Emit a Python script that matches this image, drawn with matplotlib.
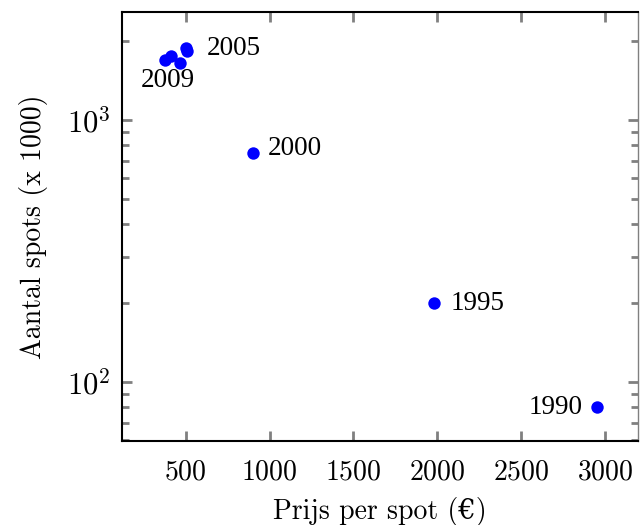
import matplotlib
matplotlib.use("Agg")
import matplotlib.pyplot as plt
from matplotlib.ticker import LogLocator, FixedLocator, FuncFormatter
import numpy as np

plt.rcParams['mathtext.fontset'] = 'cm'
plt.rcParams['axes.formatter.use_mathtext'] = True

jaren = ['1990', '1995', '2000', '2005', '2006', '2007', '2008', '2009']
prijs = [2950, 1980, 900, 502, 508, 466, 411, 377]
spots = [80, 200, 750, 1878, 1826, 1646, 1759, 1694]

# labels die getoond worden en hun verschuiving (punten)
labels = {'1990': (-10, 0, 'right', 'center'),
          '1995': (12, 0, 'left', 'center'),
          '2000': (11, 3, 'left', 'center'),
          '2005': (15, 0, 'left', 'center'),
          '2009': (2, -15, 'center', 'center')}

xticks = [500, 1000, 1500, 2000, 2500, 3000]

fig = plt.figure(figsize=(6.4, 5.25), dpi=100)
ax = fig.add_axes([122/640, 84/525, 516/640, 429/525])

ax.scatter(prijs, spots, s=80, color='#0000ff', zorder=3, linewidths=0)

for jaar, x, y in zip(jaren, prijs, spots):
    if jaar in labels:
        dx, dy, ha, va = labels[jaar]
        ax.annotate(jaar, (x, y), xytext=(dx, dy), textcoords='offset points',
                    ha=ha, va=va, fontsize=19.5, family='Liberation Serif')

ax.set_yscale('log')
ax.set_xlim(121, 3196)
ax.set_ylim(59.6, 2583)

ax.xaxis.set_major_locator(FixedLocator(xticks))
ax.set_xticklabels(['$%d$' % t for t in xticks])
ax.yaxis.set_major_locator(LogLocator(base=10))
ax.yaxis.set_major_formatter(FuncFormatter(lambda v, p: '$10^{%d}$' % round(np.log10(v))))
ax.yaxis.set_minor_locator(LogLocator(base=10, subs=range(2, 10)))
ax.yaxis.set_minor_formatter(plt.NullFormatter())

ax.tick_params(which='both', direction='in', top=True, right=True,
               color='#808080', width=2, labelsize=20)
ax.tick_params(which='major', length=7)
ax.tick_params(which='minor', length=5)
ax.tick_params(axis='x', pad=12)
ax.tick_params(axis='y', labelsize=22, pad=8)

for s in ['left', 'bottom', 'top']:
    ax.spines[s].set_linewidth(1.5)
    ax.spines[s].set_color('black')
ax.spines['right'].set_linewidth(1.0)
ax.spines['right'].set_color('#808080')

fam = ['cmr10', 'DejaVu Serif']
ax.set_xlabel('Prijs per spot (€)', fontsize=20, family=fam, labelpad=8)
ax.set_ylabel('Aantal spots (x 1000)', fontsize=20, family=fam, labelpad=14)

fig.savefig('out.png', dpi=100)
